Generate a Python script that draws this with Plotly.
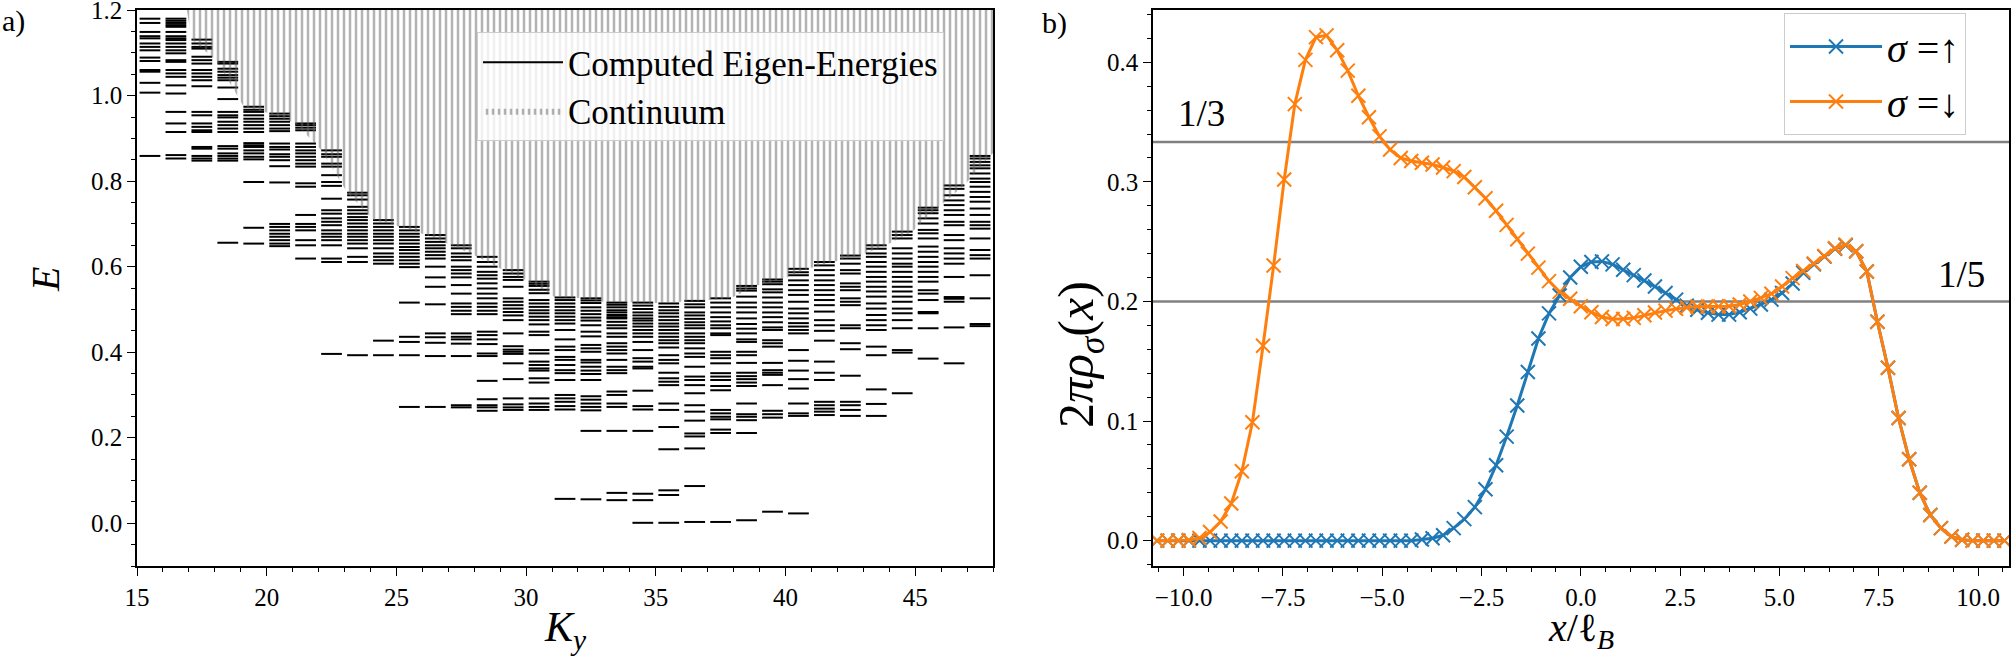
import plotly.graph_objects as go

# ---------------- Panel a) data: computed eigen-energies per K_y ----------------
KY = list(range(15, 48))
L15 = [1.180, 1.170, 1.149, 1.139, 1.134, 1.122, 1.114, 1.106, 1.089, 1.081, 1.060, 1.056, 1.030, 1.007, 0.859]
L16 = [1.180, 1.175, 1.170, 1.165, 1.161, 1.149, 1.139, 1.134, 1.130, 1.122, 1.114, 1.106, 1.099, 1.083, 1.079, 1.060, 1.052, 1.044, 1.024, 1.005, 0.962, 0.935, 0.915, 0.861, 0.853]
L17 = [1.131, 1.122, 1.114, 1.110, 1.091, 1.083, 1.075, 1.060, 1.052, 1.044, 1.036, 1.022, 0.962, 0.954, 0.935, 0.927, 0.919, 0.915, 0.880, 0.876, 0.859, 0.853, 0.848]
L18 = [1.079, 1.075, 1.063, 1.056, 1.048, 1.042, 1.036, 1.019, 0.992, 0.962, 0.954, 0.949, 0.939, 0.931, 0.923, 0.915, 0.882, 0.876, 0.865, 0.859, 0.853, 0.848, 0.656]
L19 = [0.974, 0.967, 0.962, 0.954, 0.946, 0.939, 0.931, 0.923, 0.915, 0.889, 0.884, 0.880, 0.872, 0.865, 0.857, 0.851, 0.798, 0.691, 0.654]
L20 = [0.958, 0.952, 0.946, 0.939, 0.931, 0.923, 0.917, 0.888, 0.880, 0.874, 0.863, 0.857, 0.849, 0.835, 0.797, 0.700, 0.693, 0.685, 0.677, 0.670, 0.662, 0.654, 0.648]
L21 = [0.935, 0.931, 0.925, 0.919, 0.888, 0.880, 0.872, 0.865, 0.857, 0.849, 0.841, 0.834, 0.795, 0.787, 0.721, 0.700, 0.693, 0.685, 0.662, 0.650, 0.619]
L22 = [0.872, 0.863, 0.857, 0.841, 0.834, 0.814, 0.798, 0.789, 0.759, 0.732, 0.724, 0.713, 0.705, 0.697, 0.685, 0.677, 0.670, 0.662, 0.650, 0.619, 0.611, 0.396]
L23 = [0.773, 0.767, 0.757, 0.740, 0.732, 0.724, 0.716, 0.709, 0.701, 0.693, 0.685, 0.677, 0.670, 0.662, 0.654, 0.643, 0.623, 0.611, 0.393]
L24 = [0.709, 0.701, 0.693, 0.685, 0.677, 0.670, 0.662, 0.654, 0.643, 0.631, 0.623, 0.615, 0.607, 0.427, 0.393]
L25 = [0.693, 0.685, 0.677, 0.670, 0.662, 0.654, 0.646, 0.639, 0.631, 0.623, 0.615, 0.607, 0.599, 0.516, 0.436, 0.424, 0.393, 0.272]
L26 = [0.674, 0.666, 0.658, 0.650, 0.643, 0.635, 0.627, 0.619, 0.600, 0.575, 0.553, 0.512, 0.444, 0.435, 0.422, 0.391, 0.272]
L27 = [0.650, 0.643, 0.631, 0.623, 0.615, 0.600, 0.592, 0.584, 0.575, 0.557, 0.537, 0.514, 0.506, 0.497, 0.489, 0.444, 0.436, 0.430, 0.420, 0.391, 0.276, 0.271]
L28 = [0.623, 0.611, 0.600, 0.588, 0.580, 0.572, 0.561, 0.549, 0.537, 0.526, 0.514, 0.506, 0.497, 0.489, 0.448, 0.440, 0.430, 0.419, 0.397, 0.391, 0.333, 0.290, 0.276, 0.271, 0.263]
L29 = [0.592, 0.584, 0.576, 0.569, 0.553, 0.526, 0.518, 0.510, 0.502, 0.494, 0.486, 0.475, 0.444, 0.414, 0.406, 0.401, 0.396, 0.374, 0.337, 0.292, 0.278, 0.271, 0.265]
L30 = [0.565, 0.560, 0.555, 0.546, 0.538, 0.522, 0.514, 0.506, 0.498, 0.491, 0.483, 0.475, 0.465, 0.448, 0.440, 0.405, 0.397, 0.378, 0.370, 0.362, 0.357, 0.339, 0.329, 0.292, 0.280, 0.272, 0.265]
L31 = [0.528, 0.522, 0.514, 0.506, 0.498, 0.491, 0.483, 0.475, 0.467, 0.452, 0.430, 0.413, 0.405, 0.389, 0.382, 0.370, 0.358, 0.351, 0.335, 0.300, 0.292, 0.284, 0.274, 0.266, 0.057]
L32 = [0.526, 0.521, 0.515, 0.505, 0.497, 0.489, 0.481, 0.474, 0.463, 0.448, 0.437, 0.417, 0.409, 0.401, 0.382, 0.376, 0.366, 0.357, 0.349, 0.335, 0.297, 0.289, 0.280, 0.272, 0.264, 0.216, 0.056]
L33 = [0.516, 0.511, 0.505, 0.498, 0.493, 0.487, 0.482, 0.479, 0.471, 0.463, 0.456, 0.444, 0.436, 0.421, 0.413, 0.405, 0.397, 0.382, 0.366, 0.358, 0.351, 0.308, 0.300, 0.280, 0.272, 0.216, 0.071, 0.054]
L34 = [0.516, 0.509, 0.501, 0.493, 0.486, 0.479, 0.474, 0.467, 0.460, 0.452, 0.444, 0.436, 0.424, 0.405, 0.386, 0.378, 0.366, 0.362, 0.310, 0.274, 0.266, 0.216, 0.069, 0.054, 0.001]
L35 = [0.514, 0.506, 0.498, 0.491, 0.483, 0.475, 0.467, 0.460, 0.452, 0.444, 0.436, 0.428, 0.421, 0.411, 0.393, 0.382, 0.374, 0.352, 0.339, 0.331, 0.323, 0.280, 0.265, 0.225, 0.173, 0.077, 0.066, 0.001]
L36 = [0.520, 0.512, 0.505, 0.493, 0.486, 0.478, 0.470, 0.463, 0.456, 0.444, 0.436, 0.428, 0.421, 0.409, 0.397, 0.389, 0.366, 0.343, 0.335, 0.323, 0.304, 0.276, 0.261, 0.240, 0.210, 0.203, 0.175, 0.087, 0.003]
L37 = [0.526, 0.516, 0.505, 0.493, 0.482, 0.472, 0.463, 0.456, 0.444, 0.440, 0.401, 0.393, 0.386, 0.374, 0.351, 0.343, 0.335, 0.321, 0.311, 0.265, 0.257, 0.249, 0.243, 0.219, 0.211, 0.003]
L38 = [0.555, 0.549, 0.544, 0.530, 0.516, 0.505, 0.493, 0.479, 0.466, 0.455, 0.444, 0.430, 0.424, 0.401, 0.393, 0.375, 0.352, 0.344, 0.337, 0.329, 0.321, 0.280, 0.255, 0.249, 0.241, 0.211, 0.007]
L39 = [0.570, 0.565, 0.559, 0.547, 0.540, 0.528, 0.516, 0.505, 0.493, 0.482, 0.470, 0.458, 0.452, 0.428, 0.421, 0.413, 0.375, 0.358, 0.352, 0.347, 0.323, 0.263, 0.255, 0.247, 0.027]
L40 = [0.595, 0.587, 0.580, 0.568, 0.557, 0.545, 0.534, 0.518, 0.502, 0.491, 0.479, 0.468, 0.460, 0.452, 0.444, 0.405, 0.380, 0.357, 0.337, 0.315, 0.280, 0.257, 0.251, 0.023]
L41 = [0.611, 0.603, 0.592, 0.580, 0.568, 0.557, 0.545, 0.534, 0.522, 0.510, 0.495, 0.475, 0.463, 0.450, 0.427, 0.378, 0.352, 0.335, 0.284, 0.276, 0.268, 0.261, 0.253]
L42 = [0.626, 0.619, 0.607, 0.592, 0.584, 0.561, 0.553, 0.545, 0.526, 0.518, 0.510, 0.463, 0.456, 0.421, 0.407, 0.345, 0.284, 0.276, 0.265, 0.251]
L43 = [0.650, 0.642, 0.631, 0.623, 0.611, 0.600, 0.588, 0.576, 0.565, 0.553, 0.542, 0.530, 0.514, 0.502, 0.487, 0.475, 0.463, 0.452, 0.413, 0.393, 0.313, 0.279, 0.251]
L44 = [0.682, 0.674, 0.666, 0.643, 0.631, 0.619, 0.607, 0.600, 0.588, 0.576, 0.565, 0.553, 0.542, 0.530, 0.518, 0.502, 0.491, 0.475, 0.456, 0.405, 0.399, 0.304]
L45 = [0.738, 0.732, 0.725, 0.713, 0.701, 0.686, 0.678, 0.666, 0.647, 0.635, 0.623, 0.611, 0.600, 0.588, 0.576, 0.565, 0.545, 0.537, 0.522, 0.494, 0.491, 0.456, 0.385]
L46 = [0.790, 0.782, 0.767, 0.755, 0.744, 0.732, 0.721, 0.705, 0.697, 0.674, 0.662, 0.643, 0.631, 0.619, 0.607, 0.576, 0.529, 0.525, 0.518, 0.458, 0.374]
L47 = [0.859, 0.853, 0.845, 0.837, 0.830, 0.818, 0.806, 0.798, 0.787, 0.775, 0.763, 0.752, 0.736, 0.721, 0.705, 0.697, 0.689, 0.666, 0.639, 0.627, 0.619, 0.580, 0.526, 0.466, 0.461]
LEVELS = [L15, L16, L17, L18, L19, L20, L21, L22, L23, L24, L25, L26, L27, L28, L29, L30, L31,
          L32, L33, L34, L35, L36, L37, L38, L39, L40, L41, L42, L43, L44, L45, L46, L47]

# lower edge of the continuum
CONT_KY = [15.0, 16.9, 17.1, 18.1, 19.1, 20.1, 21.1, 22.1, 23.1, 24.1, 25.1, 26.1, 27.1, 28.1, 29.1, 30.1,
           31.1, 32.1, 33.1, 34.1, 35.1, 36.9, 37.9, 38.9, 39.9, 40.9, 41.9, 42.9, 43.9, 44.9, 45.9, 46.9, 47.9, 48.0]
CONT_E = [1.30, 1.21, 1.132, 1.080, 0.975, 0.959, 0.936, 0.873, 0.774, 0.710, 0.694, 0.675, 0.651, 0.624, 0.593, 0.566,
          0.529, 0.527, 0.517, 0.517, 0.515, 0.521, 0.527, 0.556, 0.571, 0.596, 0.612, 0.627, 0.651, 0.683, 0.739, 0.791, 0.860, 0.865]

# ---------------- Panel b) data: densities ----------------
XPOS = [-10.667, -10.4, -10.133, -9.867, -9.6, -9.333, -9.067, -8.8, -8.533, -8.267, -8.0, -7.733, -7.467, -7.2,
        -6.933, -6.667, -6.4, -6.133, -5.867, -5.6, -5.333, -5.067, -4.8, -4.533, -4.267, -4.0, -3.733, -3.467,
        -3.2, -2.933, -2.667, -2.4, -2.133, -1.867, -1.6, -1.333, -1.067, -0.8, -0.533, -0.267, 0.0, 0.267, 0.533,
        0.8, 1.067, 1.333, 1.6, 1.867, 2.133, 2.4, 2.667, 2.933, 3.2, 3.467, 3.733, 4.0, 4.267, 4.533, 4.8, 5.067,
        5.333, 5.6, 5.867, 6.133, 6.4, 6.667, 6.933, 7.2, 7.467, 7.733, 8.0, 8.267, 8.533, 8.8, 9.067, 9.333, 9.6,
        9.867, 10.133, 10.4, 10.667]
RHO_DOWN = [0, 0, 0, 0.0005, 0.0022, 0.0072, 0.016, 0.031, 0.058, 0.099, 0.163, 0.230, 0.302, 0.365, 0.402,
            0.421, 0.4225, 0.410, 0.393, 0.372, 0.354, 0.338, 0.327, 0.320, 0.3175, 0.316, 0.3145, 0.312, 0.309,
            0.304, 0.2955, 0.2863, 0.2758, 0.264, 0.252, 0.240, 0.2283, 0.217, 0.208, 0.2022, 0.196, 0.191, 0.187,
            0.1853, 0.1853, 0.1863, 0.1885, 0.1907, 0.1923, 0.1938, 0.195, 0.1957, 0.1958, 0.1958, 0.196, 0.1975,
            0.200, 0.203, 0.2065, 0.2125, 0.2195, 0.2255, 0.2318, 0.238, 0.2445, 0.2475, 0.242, 0.225, 0.183,
            0.1445, 0.1025, 0.068, 0.040, 0.0215, 0.0105, 0.0034, 0.0008, 0, 0, 0, 0]
RHO_UP = [0, 0, 0, 0, 0, 0, 0, 0, 0, 0, 0, 0, 0, 0, 0, 0, 0, 0, 0, 0, 0, 0, 0, 0, 0, 0.001, 0.002, 0.0045,
          0.0105, 0.018, 0.028, 0.043, 0.063, 0.087, 0.113, 0.141, 0.169, 0.190, 0.205, 0.220, 0.229, 0.233,
          0.2335, 0.231, 0.2265, 0.222, 0.2175, 0.2125, 0.207, 0.2015, 0.1965, 0.193, 0.1905, 0.189, 0.189, 0.191,
          0.194, 0.1975, 0.2015, 0.207, 0.215, 0.224, 0.231, 0.2375, 0.244, 0.247, 0.242, 0.225, 0.183, 0.1445,
          0.1025, 0.068, 0.040, 0.0215, 0.0105, 0.0034, 0.0008, 0, 0, 0, 0]
FILLINGS = [1 / 3, 1 / 5]
FILLING_LABELS = ["1/3", "1/5"]

FONT = "Liberation Serif"
W, H = 2011, 657
BLUE, ORANGE, GREY = "#1f77b4", "#ff7f0e", "#808080"
HATCH = "#686868"

fig = go.Figure()

# eigen-energy segments
seg_x, seg_y = [], []
for k, levels in zip(KY, LEVELS):
    for e in levels:
        seg_x += [k + 0.1, k + 0.9, None]
        seg_y += [e, e, None]
fig.add_trace(go.Scatter(x=seg_x, y=seg_y, mode="lines", line=dict(color="black", width=2.0),
                         name="Computed Eigen-Energies", legend="legend", xaxis="x", yaxis="y",
                         hoverinfo="skip"))

# continuum (hatched)
poly_x = CONT_KY + [CONT_KY[-1], CONT_KY[0]]
poly_y = CONT_E + [1.35, 1.35]
fig.add_trace(go.Scatter(x=poly_x, y=poly_y, mode="lines", fill="toself",
                         line=dict(width=0, color=HATCH), fillcolor="rgba(0,0,0,0)",
                         fillpattern=dict(shape="|", fgcolor=HATCH, bgcolor="rgba(0,0,0,0)",
                                          size=6, solidity=0.42, fillmode="overlay"),
                         name="Continuum", legend="legend", xaxis="x", yaxis="y", hoverinfo="skip"))

# densities
fig.add_trace(go.Scatter(x=XPOS, y=RHO_UP, mode="lines+markers", name="<i>σ</i> =↑",
                         line=dict(color=BLUE, width=3),
                         marker=dict(symbol="x-thin", size=14, line=dict(width=2, color=BLUE)),
                         legend="legend2", xaxis="x2", yaxis="y2"))
fig.add_trace(go.Scatter(x=XPOS, y=RHO_DOWN, mode="lines+markers", name="<i>σ</i> =↓",
                         line=dict(color=ORANGE, width=3),
                         marker=dict(symbol="x-thin", size=14, line=dict(width=2, color=ORANGE)),
                         legend="legend2", xaxis="x2", yaxis="y2"))

# geometry (pixels -> paper)
def px(x):
    return x / W

def py(y):
    return 1 - y / H

top, bottom = 10, 566
axis_common = dict(showline=True, linecolor="black", linewidth=1.6, mirror=True, ticks="outside",
                   ticklen=8, tickwidth=1.4, tickcolor="black", showgrid=False, zeroline=False,
                   ticklabeloverflow="allow", automargin=False,
                   tickfont=dict(family=FONT, size=25, color="black"))
minor_common = dict(ticks="outside", ticklen=4.5, tickwidth=1.2, tickcolor="black")

fig.update_layout(
    width=W, height=H, margin=dict(l=0, r=0, t=0, b=0, autoexpand=False),
    paper_bgcolor="white", plot_bgcolor="white",
    font=dict(family=FONT, color="black"),
    xaxis=dict(domain=[px(137), px(993)], range=[15, 48], tickmode="linear", tick0=15, dtick=5,
               minor=dict(dtick=1, **minor_common), anchor="y", **axis_common),
    yaxis=dict(domain=[py(bottom), py(top)], range=[-0.1, 1.2003], tickmode="linear", tick0=0, dtick=0.2,
               tickformat=".1f", minor=dict(dtick=0.05, **minor_common), anchor="x", **axis_common),
    xaxis2=dict(domain=[px(1153), px(2009)], range=[-10.77, 10.78], tickmode="linear", tick0=0, dtick=2.5,
                tickformat=".1f", minor=dict(dtick=0.625, **minor_common), anchor="y2", **axis_common),
    yaxis2=dict(domain=[py(bottom), py(top)], range=[-0.0212, 0.4437], tickmode="linear", tick0=0, dtick=0.1,
                tickformat=".1f", minor=dict(dtick=0.02, **minor_common), anchor="x2", **axis_common),
    legend=dict(x=px(477), y=py(32), xanchor="left", yanchor="top",
                bgcolor="rgba(255,255,255,0.8)", bordercolor="#cccccc", borderwidth=1,
                font=dict(family=FONT, size=35, color="black"), itemwidth=80, tracegroupgap=0),
    legend2=dict(x=px(1784), y=py(13), xanchor="left", yanchor="top",
                 bgcolor="rgba(255,255,255,0.8)", bordercolor="#cccccc", borderwidth=1,
                 font=dict(family=FONT, size=40, color="black"), itemwidth=92, tracegroupgap=0),
    showlegend=True,
)

for f in FILLINGS:
    fig.add_shape(type="line", xref="x2 domain", yref="y2", x0=0, x1=1, y0=f, y1=f,
                  line=dict(color=GREY, width=2.6), layer="below")

fig.add_annotation(x=-9.55, y=FILLINGS[0], xref="x2", yref="y2", text=FILLING_LABELS[0], showarrow=False,
                   xanchor="center", yanchor="bottom", yshift=6, font=dict(family=FONT, size=37, color="black"))
fig.add_annotation(x=9.58, y=FILLINGS[1], xref="x2", yref="y2", text=FILLING_LABELS[1], showarrow=False,
                   xanchor="center", yanchor="bottom", yshift=4, font=dict(family=FONT, size=37, color="black"))

# axis titles and panel labels
def label(x, y, text, size, angle=0, xa="center", ya="middle"):
    fig.add_annotation(x=px(x), y=py(y), xref="paper", yref="paper", text=text, showarrow=False,
                       textangle=angle, xanchor=xa, yanchor=ya, font=dict(family=FONT, size=size, color="black"))

label(45, 280, "<i>E</i>", 40, angle=-90)
label(565, 630, "<i>K<sub>y</sub></i>", 42)
label(1080, 355, "2<i>πρ<sub>σ</sub></i>(<i>x</i>)", 50, angle=-90)
label(1581, 630, "<i>x</i>/ℓ<sub><i>B</i></sub>", 40)
label(0, 2, "a)", 30, xa="left", ya="top")
label(1040, 4, "b)", 30, xa="left", ya="top")

fig.write_html("out.html")
